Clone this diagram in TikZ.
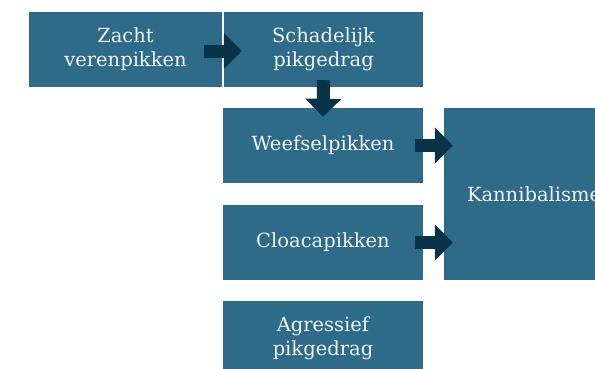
\documentclass[tikz,border=0pt]{standalone}
\usepackage{fontspec}
\setmainfont{DejaVu Serif}
\usetikzlibrary{calc,arrows.meta}
\definecolor{boxblue}{HTML}{2D6B88}
\definecolor{arrowdark}{HTML}{0B3347}
\definecolor{txt}{HTML}{F2F4F5}
\tikzset{
  box/.style={fill=boxblue, draw=none, text=txt, align=center, inner sep=0pt,
    font=\fontsize{19.5}{24}\selectfont},
  bigarrow/.style={draw=arrowdark, line width=13pt,
    -{Triangle[length=18pt,width=35pt]}}
}
\begin{document}
\begin{tikzpicture}[x=1pt,y=-1pt]
\clip (0,0) rectangle (595,368);
\fill[white] (0,0) rectangle (595,368);
\node[box, minimum width=193pt, minimum height=75pt] (zacht) at (125.5,49.5) {Zacht\\verenpikken};
\node[box, minimum width=199pt, minimum height=75pt] (schad) at (323.5,49.5) {Schadelijk\\pikgedrag};
\node[box, minimum width=200pt, minimum height=75pt] (weef) at (323,145.5) {Weefselpikken};
\node[box, minimum width=200pt, minimum height=75pt] (cloa) at (323,242.5) {Cloacapikken};
\node[box, minimum width=200pt, minimum height=75pt] (agr) at (323,338.5) {Agressief\\pikgedrag};
\node[box, minimum width=190pt, minimum height=172pt, text width=170pt, align=left] (kann) at (539,194) {\hspace*{13pt}Kannibalisme};
\coordinate (a1s) at ($(zacht.east)+(-18pt,-1.5pt)$);
\coordinate (a1e) at ($(schad.west)+(18pt,-1.5pt)$);
\draw[bigarrow] (a1s) -- (a1e);
\coordinate (a2s) at ($(schad.south)+(0,7pt)$);
\coordinate (a2e) at ($(weef.north)+(0,-9pt)$);
\draw[bigarrow] (a2s) -- (a2e);
\coordinate (a3s) at ($(weef.east)+(-8pt,0)$);
\coordinate (a3e) at ($(kann.west |- weef.east)+(9pt,0)$);
\draw[bigarrow] (a3s) -- (a3e);
\coordinate (a4s) at ($(cloa.east)+(-8pt,0)$);
\coordinate (a4e) at ($(kann.west |- cloa.east)+(9pt,0)$);
\draw[bigarrow] (a4s) -- (a4e);
\end{tikzpicture}
\end{document}
